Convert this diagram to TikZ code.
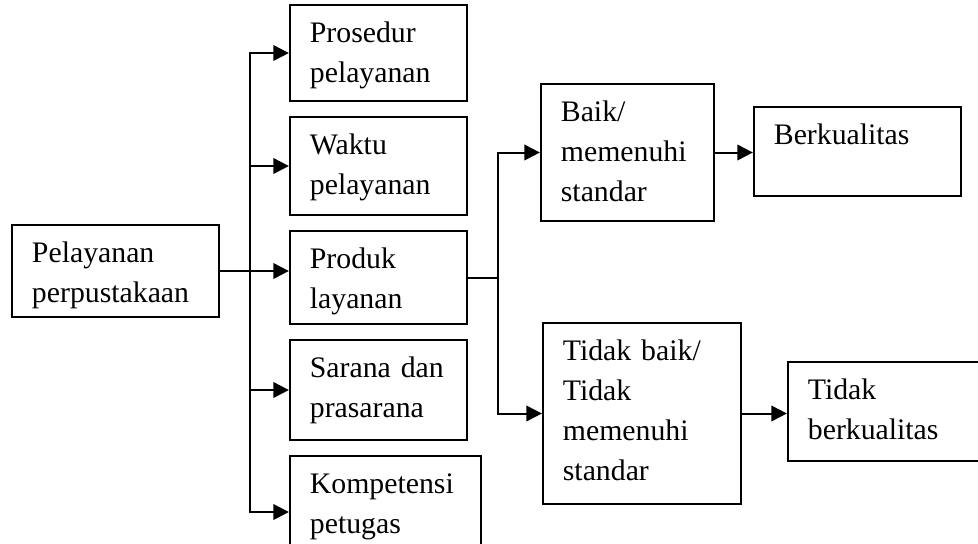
\documentclass[tikz,border=0pt]{standalone}
\usepackage{fontspec}
\setmainfont{Liberation Serif}
\usepackage{tikz}
\usetikzlibrary{arrows.meta, positioning}
\tikzset{
    kotak/.style 2 args = {
        rectangle,
        draw,
        line width=0.9pt,
        align=left,
        text width=#1,
        text height=16.65pt,
        text depth=#2,
        inner xsep=9pt,
        inner ysep=0pt,
        font=\fontsize{13.4pt}{18pt}\selectfont
    },
    panah/.style = {
        draw,
        line width=0.9pt,
        -{Triangle[length=7pt, width=7pt]}
    }
}
\begin{document}
\begin{tikzpicture}[
    node distance=6.3pt and 31pt
]
\useasboundingbox (0,0) rectangle (440.1pt,-244.35pt);

% Main node
\node [kotak={75.15pt}{24.75pt}, anchor=north west] (A) at (4.95pt,-100.8pt) {Pelayanan\\perpustakaan};

% Aspects of the service, stacked around Produk
\node [kotak={61.65pt}{25.2pt}, below right=2.7pt and 31pt of A.north east] (B3) {Produk\\layanan};
\node [kotak={61.65pt}{27.45pt}, above=of B3] (B2) {Waktu\\pelayanan};
\node [kotak={61.65pt}{26.55pt}, above=of B2] (B1) {Prosedur\\pelayanan};
\node [kotak={61.65pt}{28.35pt}, below=of B3] (B4) {Sarana dan\\prasarana};
\node [kotak={67.95pt}{33.75pt}, below=of B4.south west, anchor=north west] (B5) {Kompetensi\\petugas};

% Trunk to the aspects
\coordinate [right=13.5pt of A.east] (T);
\draw [panah] (A.east) -- (A.east -| B3.west);
\draw [panah] (T) |- (B1.west);
\draw [panah] (T) |- (B2.west);
\draw [panah] (T) |- (B4.west);
\draw [panah] (T) |- (B5.west);

% Result branch
\node [kotak={59.85pt}{45pt}, above right=3.6pt and 32.4pt of B3.north east] (C) {Baik/\\memenuhi\\standar};
\node [kotak={71.1pt}{64.8pt}, below right=41.4pt and 33.3pt of B3.north east] (D) {Tidak baik/\\Tidak\\memenuhi\\standar};
\node [kotak={75.15pt}{23.4pt}, below right=10.35pt and 17.1pt of C.north east] (C1) {Berkualitas};
\node [kotak={75.15pt}{27.9pt}, below right=17.55pt and 20.25pt of D.north east] (D1) {Tidak\\berkualitas};

\coordinate [right=13.5pt of B3.east] (T2);
\draw [line width=0.9pt] (B3.east) -- (T2);
\draw [panah] (T2) |- (C.west);
\draw [panah] (T2) |- (D.west);
\draw [panah] (C.east) -- (C.east -| C1.west);
\draw [panah] (D.east) -- (D.east -| D1.west);

\end{tikzpicture}
\end{document}
